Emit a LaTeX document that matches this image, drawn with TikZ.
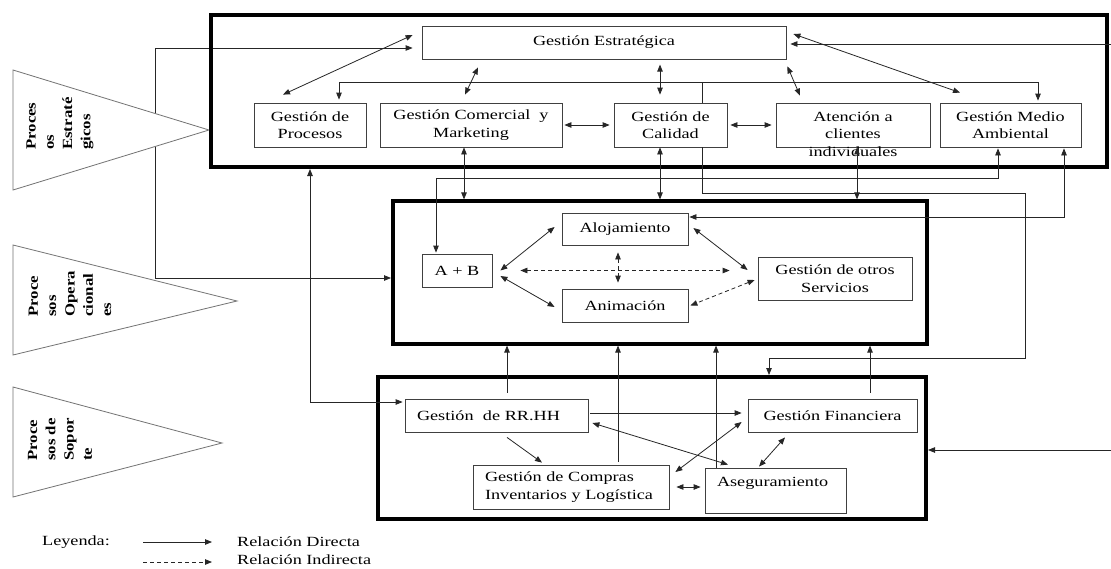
\documentclass[tikz,border=0pt]{standalone}
\usepackage{fontspec}
\setmainfont{Liberation Serif}[FakeStretch=1.3]
\newfontfamily\trifont{Liberation Serif}
\usetikzlibrary{arrows.meta,calc}
\pgfdeclarelayer{back}
\pgfsetlayers{back,main}
\begin{document}
\begin{tikzpicture}[x=1pt,y=-1pt,
  >={Triangle[length=7pt,width=5.5pt]},
  box/.style={draw=black!75, line width=0.8pt, fill=white, inner sep=0pt, align=center,
    font=\fontsize{14}{17.5}\selectfont},
  lbox/.style={box, align=left, inner xsep=12pt},
  group/.style={draw=black, line width=4pt, inner sep=0pt},
  link/.style={draw=black!85, line width=0.8pt},
  dlink/.style={link, dash pattern=on 4pt off 3pt},
  tri/.style={draw=black!55, line width=0.8pt, fill=white},
  trilabel/.style={font=\trifont\bfseries\fontsize{14}{18.3}\selectfont, align=left,
    inner sep=0pt, rotate=90, xscale=1.2, anchor=west},
  txt/.style={font=\fontsize{14}{17.5}\selectfont, inner sep=0pt}
]
\begin{pgfonlayer}{back}
  \fill[white] (0,0) rectangle (1111,568);
\end{pgfonlayer}
\useasboundingbox (0,0) rectangle (1111,568);

% process triangles on the left
\draw[tri] (13,70) -- (13,190) -- (209,130) -- cycle;
\draw[tri] (13,245) -- (13,355) -- (237,301) -- cycle;
\draw[tri] (13,387) -- (13,497) -- (222,443) -- cycle;
\node[trilabel] (t1) at (60,150) {Proces\\os\\Estraté\\gicos};
\node[trilabel] (t2) at (70,317) {Proce\\sos\\Opera\\cional\\es};
\node[trilabel] (t3) at (60,461) {Proce\\sos de\\Sopor\\te};

% process blocks
\node[group, minimum width=896, minimum height=152] (top) at (659,91) {};
\node[group, minimum width=534, minimum height=143] (mid) at (660,272.5) {};
\node[group, minimum width=548, minimum height=142] (bot) at (652,448) {};

% strategic processes
\node[box, minimum width=364, minimum height=33] (estr) at (604,42.5) {Gestión Estratégica};
\node[box, minimum width=112, minimum height=44] (proc) at (310,125) {Gestión de\\Procesos};
\node[box, minimum width=182, minimum height=44] (com) at (471,125) {Gestión Comercial~ y\\Marketing};
\node[box, minimum width=113, minimum height=44] (cal) at (670.5,125) {Gestión de\\Calidad};
\node[box, minimum width=154, minimum height=44] (aten) at (853,125) {};
\node[txt, align=center] (atenlbl) at ($(aten.center)+(0,8.75)$) {Atención a\\clientes\\individuales};
\node[box, minimum width=141, minimum height=44] (amb) at (1010.5,125) {Gestión Medio\\Ambiental};

% operational processes
\node[box, minimum width=126, minimum height=32] (aloj) at (625,229) {Alojamiento};
\node[box, minimum width=70, minimum height=33] (ab) at (457,270.5) {A + B};
\node[box, minimum width=126, minimum height=33] (anim) at (625,305.5) {Animación};
\node[box, minimum width=154, minimum height=43] (otros) at (835,278.5) {Gestión de otros\\Servicios};

% support processes
\node[lbox, text width=159, minimum height=33] (rrhh) at (496.5,415.5) {Gestión~~de RR.HH};
\node[box, minimum width=169, minimum height=33] (fin) at (832.5,415.5) {Gestión Financiera};
\node[lbox, text width=172, minimum height=44] (comp) at (571,487) {Gestión de Compras\\Inventarios y Logística};
\node[lbox, text width=117, minimum height=45] (aseg) at (775.5,490.5) {Aseguramiento\\\mbox{}};

% feed from the left into the strategic and operational blocks
\begin{pgfonlayer}{back}
  \draw[link,<->] ($(estr.west)+(-9,5.5)$) -| ($(mid.west)+(-236,5.5)$) -- ($(mid.west)+(0,5.5)$);
\end{pgfonlayer}

% feeds from the right margin
\coordinate (inS) at (1111,44);
\coordinate (inB) at (1111,450);
\draw[link,->] (inS) -- ($(estr.east)+(4,1.5)$);
\draw[link,->] (inB) -- (inB -| bot.east);

% strategic block links
\draw[link,<->] ($(proc.north)+(-27,-8)$) -- ($(estr.west)+(-9,-7.5)$);
\draw[link,<->] ($(com.north)+(-6,-8)$) -- ($(estr.south)+(-126,8)$);
\draw[link,<->] ($(cal.north)+(-10.5,-8)$) -- ($(cal.north)+(-10.5,-38)$);
\draw[link,<->] ($(aten.north)+(-53,-7)$) -- ($(estr.south east)+(1,7)$);
\draw[link,<->] ($(amb.north)+(-50.5,-10)$) -- ($(estr.east)+(7,-8.5)$);
\draw[link,<->] ($(proc.north)+(29,-3)$) |- ($(amb.north)+(27.5,-20)$) -- ($(amb.north)+(27.5,-2)$);
\draw[link] ($(cal.north)+(31.5,0)$) -- ($(cal.north)+(31.5,-20)$);
\draw[link,<->,shorten <=2pt,shorten >=4pt] (com.east) -- (cal.west);
\draw[link,<->,shorten <=3pt,shorten >=4pt] (cal.east) -- (aten.west);

% strategic to operational
\draw[link,<->] ($(com.south)+(-7,0)$) -- ($(com.south)+(-7,52)$);
\draw[link,<->] ($(cal.south)+(-10.5,0)$) -- ($(cal.south)+(-10.5,52)$);
\draw[link,<->] ($(aten.south)+(4,0)$) -- ($(aten.south)+(4,52)$);
\draw[link,->] ($(cal.south)+(31.5,0)$) |- ($(amb.south)+(14.5,46)$) |- ($(bot.north)+(117,-17)$) -- ($(bot.north)+(117,0)$);
\draw[link,<->] ($(amb.south)+(-12.5,1)$) |- ($(ab.north)+(-21,-75)$) -- ($(ab.north)+(-21,-1)$);
\draw[link,<->] ($(amb.south)+(53.5,1)$) |- ($(aloj.east)+(1,-12)$);
\draw[link,<->] (proc.south |- top.south) |- ($(rrhh.west)+(-2,-13.5)$);

% operational block links
\draw[link,<->] ($(ab.east)+(8,0)$) -- ($(aloj.west)+(-7,-2)$);
\draw[link,<->] ($(ab.east)+(8,5.5)$) -- ($(anim.west)+(-7,1.5)$);
\draw[link,<->] ($(aloj.east)+(5,-1)$) -- ($(otros.west)+(-10,-8.5)$);
\draw[dlink,<->] ($(ab.east)+(28,0)$) -- ($(otros.west)+(-28,-8)$);
\draw[dlink,<->] ($(aloj.south)+(-7,7)$) -- ($(anim.north)+(-7,-6)$);
\draw[dlink,<->] ($(otros.west)+(-3,1.5)$) -- ($(anim.east)+(2,0)$);

% support to operational
\draw[link,->] ($(rrhh.north)+(10.5,-6)$) -- ($(rrhh.north)+(10.5,-53)$);
\draw[link,->] ($(comp.north)+(47,-3)$) -- ($(comp.north)+(47,-119)$);
\draw[link,->] ($(aseg.north)+(-59.5,0)$) -- ($(aseg.north)+(-59.5,-122)$);
\draw[link,->] ($(fin.north)+(37.5,-6)$) -- ($(fin.north)+(37.5,-53)$);

% support block links
\draw[link,->] ($(rrhh.east)+(2,-2.5)$) -- ($(fin.west)+(-6,-2.5)$);
\draw[link,->] ($(rrhh.south)+(10.5,5)$) -- ($(comp.north)+(-29,-2)$);
\draw[link,<->] ($(rrhh.east)+(4,7.5)$) -- ($(aseg.north)+(-47.5,-3)$);
\draw[link,<->] ($(comp.east)+(6,-15)$) -- ($(fin.west)+(-6,6.5)$);
\draw[link,<->] ($(aseg.north)+(-16.5,-1)$) -- ($(fin.south)+(-47.5,5)$);
\draw[link,<->] ($(comp.east)+(7,0)$) -- ($(aseg.west)+(-4,-3.5)$);

% legend
\node[txt] (leg) at (76,542) {Leyenda:};
\node[txt, anchor=west] (ld) at (237,542) {Relación Directa};
\node[txt, anchor=west] (li) at (237,560) {Relación Indirecta};
\coordinate (l1a) at (143,542);
\coordinate (l2a) at (143,562);
\draw[link,->] (l1a) -- ($(ld.west)+(-25,0)$);
\draw[dlink,->] (l2a) -- ($(li.west)+(-25,2)$);
\end{tikzpicture}
\end{document}
